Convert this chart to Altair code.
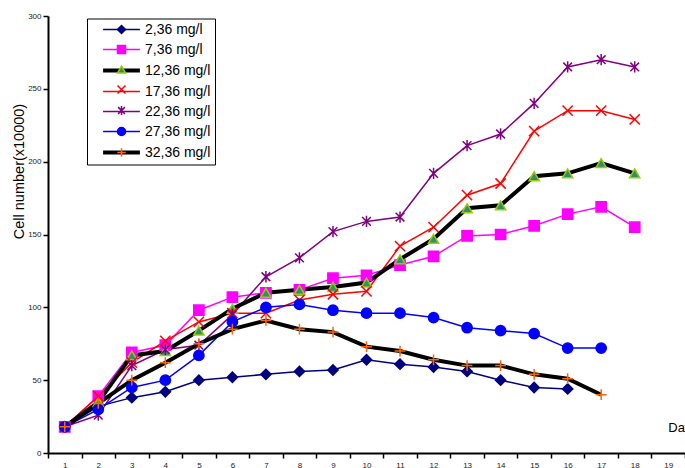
import altair as alt
import pandas as pd

# ---------------- data ----------------
days = list(range(1, 20))
series_names = ["2,36 mg/l", "7,36 mg/l", "12,36 mg/l", "17,36 mg/l",
                "22,36 mg/l", "27,36 mg/l", "32,36 mg/l"]

s2_36 = [18, 32, 38, 42, 50, 52, 54, 56, 57, 64, 61, 59, 56, 50, 45, 44]
s7_36 = [18, 39, 69, 74, 98, 107, 110, 112, 120, 122, 129, 135, 149, 150, 156, 164, 169, 155]
s12_36 = [18, 35, 67, 70, 84, 99, 110, 112, 114, 117, 133, 147, 168, 170, 190, 192, 199, 192]
s17_36 = [18, 39, 62, 77, 90, 96, 96, 105, 109, 111, 142, 155, 177, 185, 221, 235, 235, 229]
s22_36 = [18, 26, 60, 71, 74, 95, 121, 134, 152, 159, 162, 192, 211, 219, 240, 265, 270, 265]
s27_36 = [18, 30, 45, 50, 67, 90, 100, 102, 98, 96, 96, 93, 86, 84, 82, 72, 72]
s32_36 = [18, 34, 50, 62, 75, 85, 91, 85, 83, 73, 70, 64, 60, 60, 54, 51, 40]
series_values = [s2_36, s7_36, s12_36, s17_36, s22_36, s27_36, s32_36]

y_ticks = [0, 50, 100, 150, 200, 250, 300]
x_title_text = ["Days"]

rows = []
for i, (name, vals) in enumerate(zip(series_names, series_values)):
    for d, v in zip(days, vals):
        rows.append({"series": name, "sidx": i, "day": d, "value": v})
df = pd.DataFrame(rows)

# ---------------- styles ----------------
FONT = "Liberation Sans"
line_colors = ["#000080", "#FF00FF", "#000000", "#FF0000", "#800080", "#0000FF", "#000000"]
thick_series = ["12,36 mg/l", "32,36 mg/l"]
thin_series = [s for s in series_names if s not in thick_series]

X_PATH = "M-1,-1L1,1M-1,1L1,-1"
AST_PATH = "M-0.85,-0.85L0.85,0.85M-0.85,0.85L0.85,-0.85M0,-1.1L0,1.1"
PLUS_PATH = "M-1.05,0H1.05M0,-1.05V1.05"
marker_shapes = ["diamond", "square", "triangle-up", X_PATH, AST_PATH, "circle", PLUS_PATH]
marker_fills = ["#000080", "#FF00FF", "#2F8C78", "transparent", "transparent", "#0000FF", "transparent"]
marker_strokes = ["#000080", "#FF00FF", "#99CC00", "#FF0000", "#800080", "#0000FF", "#FF6600"]

x_enc = alt.X(
    "day:O",
    scale=alt.Scale(type="band", domain=days, paddingInner=0, paddingOuter=0),
    axis=alt.Axis(title=None, labelAngle=0, tickBand="extent", grid=False,
                  domainColor="black", domainWidth=2, tickColor="black",
                  tickWidth=1.5, tickSize=5, labelFontSize=8, labelFont=FONT,
                  labelColor="#222222", labelPadding=3),
)
y_enc = alt.Y(
    "value:Q",
    scale=alt.Scale(domain=[0, 300], nice=False, zero=True),
    axis=alt.Axis(values=y_ticks, grid=False, title="Cell number(x10000)",
                  domainColor="black", domainWidth=2, tickColor="black",
                  tickWidth=1.5, tickSize=5, labelFontSize=8, labelFont=FONT,
                  labelColor="#222222", labelPadding=2,
                  titleFont=FONT, titleFontSize=14.5, titleFontWeight="normal",
                  titleColor="black", titleY=155, titleX=-22, titleAngle=270,
                  titleAlign="center", titleBaseline="bottom"),
)

legend_common = dict(
    title=None, orient="none", legendX=39, legendY=2.5, padding=4,
    symbolSize=64, symbolOffset=23.5, labelOffset=16.5,
    labelFont=FONT, labelFontSize=14, labelColor="black", rowPadding=6,
    labelExpr="datum.label + '\u00a0\u00a0'", labelLimit=0,
)

thick_expr = "indexof(['12,36 mg/l','32,36 mg/l'], datum.value) >= 0 ? 4 : 1.5"
line_legend = alt.Legend(
    strokeColor="black", fillColor="white",
    symbolType="M-4.6,0H4.6",
    symbolStrokeWidth=alt.ExprRef(expr=thick_expr),
    **legend_common,
)
point_legend = alt.Legend(labelOpacity=0, symbolOpacity=1, symbolStrokeWidth=1.5,
                          **legend_common)

color_enc = alt.Color("series:N", scale=alt.Scale(domain=series_names, range=line_colors),
                      legend=line_legend)

base = alt.Chart(df)

thin_lines = base.transform_filter(
    alt.FieldOneOfPredicate(field="series", oneOf=thin_series)
).mark_line(strokeWidth=1.5).encode(x=x_enc, y=y_enc, color=color_enc)

thick_lines = base.transform_filter(
    alt.FieldOneOfPredicate(field="series", oneOf=thick_series)
).mark_line(strokeWidth=4).encode(x=x_enc, y=y_enc, color=color_enc)

sortf = alt.EncodingSortField(field="sidx", op="min", order="ascending")
points = base.mark_point(filled=True, size=105, opacity=1, strokeWidth=1.5).encode(
    x=x_enc, y=y_enc,
    fill=alt.Fill("series:N", sort=sortf, scale=alt.Scale(range=marker_fills), legend=point_legend),
    stroke=alt.Stroke("series:N", sort=sortf, scale=alt.Scale(range=marker_strokes), legend=point_legend),
    shape=alt.Shape("series:N", sort=sortf, scale=alt.Scale(range=marker_shapes), legend=point_legend),
)

label_df = pd.DataFrame({"day": [19], "value": [17], "label": x_title_text})
x_title = alt.Chart(label_df).mark_text(
    align="left", baseline="middle", fontSize=13, font=FONT, color="black"
).encode(x=alt.X("day:O"), y=alt.Y("value:Q"), text="label:N")

chart = alt.layer(thin_lines, thick_lines, points, x_title).properties(
    width=637, height=437,
    padding={"left": 48, "top": 16, "right": 0, "bottom": 15},
    autosize=alt.AutoSizeParams(type="none"),
    background="white",
).configure_view(stroke=None)

chart.save("out.html", embed_options={"renderer": "svg", "actions": False})
